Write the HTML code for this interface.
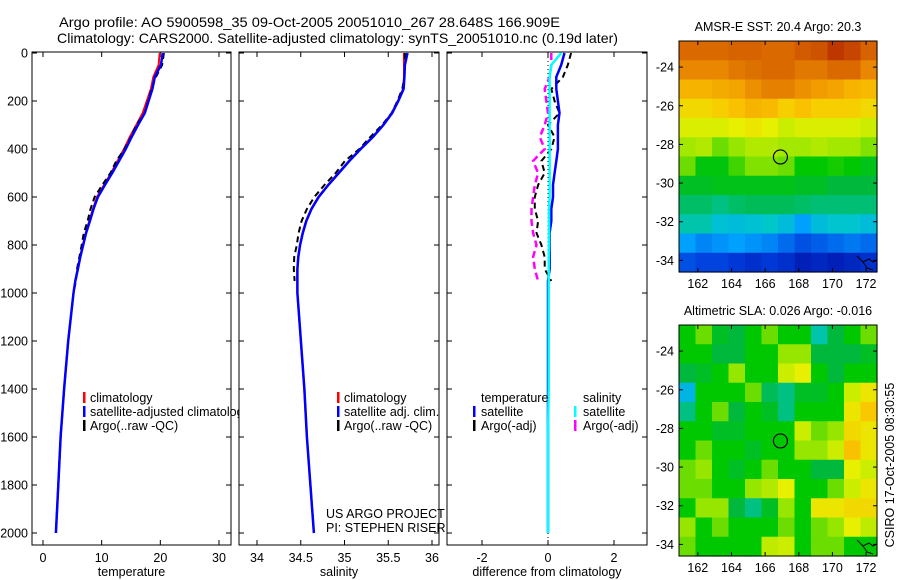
<!DOCTYPE html>
<html><head><meta charset="utf-8"><style>
body{margin:0;background:#fff;}
svg{display:block;font-family:"Liberation Sans",sans-serif;}
text{font-size:12.5px;fill:#000;}
</style></head><body>
<svg id="fig" width="900" height="580" viewBox="0 0 900 580" xmlns="http://www.w3.org/2000/svg">
<rect width="900" height="580" fill="#fff"/>
<text x="59" y="27" style="font-size:14px" textLength="501" lengthAdjust="spacingAndGlyphs">Argo profile: AO 5900598_35 09-Oct-2005 20051010_267 28.648S 166.909E</text>
<text x="57" y="43" style="font-size:14px" textLength="561" lengthAdjust="spacingAndGlyphs">Climatology: CARS2000. Satellite-adjusted climatology: synTS_20051010.nc (0.19d later)</text>
<text transform="translate(894,465) rotate(-90)" text-anchor="middle">CSIRO 17-Oct-2005 08:30:55</text>
</svg>
<script>
// ---- data ----
const depths=[0,50,100,150,200,250,300,350,400,450,500,550,600,650,700,750,800,850,900,950,1000,1200,1400,1600,1800,2000];
const climTemp=[19.9,19.7,18.8,18.4,17.7,17.0,15.9,14.8,13.8,12.7,11.6,10.4,9.2,8.5,7.9,7.3,6.8,6.3,5.9,5.5,5.2,4.3,3.6,3.0,2.6,2.2];
const satTempDiff=[0.5,0.4,0.25,0.25,0.3,0.35,0.3,0.3,0.3,0.25,0.2,0.15,0.15,0.1,0.1,0.05,0.05,0.05,0.05,0,0,0,0,0,0,0];
const argoTempDiff=[0.7,0.6,0.45,0.1,0.2,0.35,0.0,0.2,0.1,-0.2,-0.1,-0.3,-0.4,-0.4,-0.3,-0.35,-0.2,-0.1,-0.1,0.1];
const climSal=[35.68,35.68,35.68,35.67,35.61,35.54,35.44,35.32,35.18,35.05,34.93,34.81,34.70,34.62,34.56,34.52,34.49,34.47,34.46,34.46,34.46,34.50,34.54,34.57,34.61,34.65];
const satSalDiff=[0.4,0.1,0.05,0.05,0.05,0.05,0.05,0.05,0.05,0.05,0.05,0.05,0.05,0.03,0.03,0.03,0.03,0.02,0.02,0.02,0.02,0.02,0.02,0.0,0.0,0.0];
const argoSalDiff=[0.1,0.1,0.05,-0.1,-0.05,0.0,-0.1,-0.25,-0.1,-0.45,-0.3,-0.4,-0.45,-0.5,-0.5,-0.45,-0.35,-0.45,-0.4,-0.3];
const salDiffScale=0.1;
const depthTicks=[0,200,400,600,800,1000,1200,1400,1600,1800,2000];
const tempTicks=[0,10,20,30];
const salTicks=[34,34.5,35,35.5,36];
const diffTicks=[-2,0,2];
const sstGrid=[
[.88,.88,.88,.89,.89,.88,.88,.9,.91,.95,.93,.89],
[.84,.84,.84,.86,.87,.88,.88,.86,.86,.88,.88,.84],
[.78,.78,.79,.8,.83,.85,.85,.83,.81,.8,.78,.77],
[.72,.72,.74,.76,.78,.77,.74,.76,.74,.74,.74,.72],
[.67,.67,.67,.68,.7,.68,.66,.67,.67,.67,.67,.66],
[.63,.64,.6,.62,.64,.64,.63,.63,.64,.63,.63,.61],
[.6,.54,.54,.58,.61,.61,.6,.55,.55,.56,.55,.53],
[.52,.52,.53,.53,.53,.53,.53,.52,.52,.5,.5,.5],
[.47,.47,.45,.47,.48,.48,.48,.47,.46,.46,.46,.46],
[.42,.42,.38,.37,.38,.4,.37,.3,.37,.39,.39,.37],
[.3,.26,.28,.3,.28,.26,.22,.18,.2,.22,.24,.22],
[.18,.16,.16,.14,.12,.14,.12,.08,.1,.08,.1,.12]];
const slaGrid=[
[.55,.6,.52,.5,.55,.6,.55,.55,.42,.5,.55,.6],
[.55,.55,.5,.5,.55,.55,.62,.62,.5,.5,.5,.52],
[.5,.52,.55,.62,.55,.55,.66,.68,.55,.5,.55,.55],
[.35,.55,.55,.55,.6,.48,.45,.52,.52,.55,.66,.7],
[.45,.55,.6,.5,.55,.52,.45,.55,.55,.55,.7,.75],
[.55,.55,.52,.52,.55,.55,.55,.66,.6,.62,.72,.7],
[.55,.6,.55,.55,.52,.55,.55,.62,.62,.66,.76,.7],
[.6,.62,.55,.52,.55,.6,.55,.55,.5,.5,.68,.66],
[.6,.6,.55,.55,.62,.64,.68,.55,.55,.6,.66,.7],
[.55,.62,.62,.5,.45,.52,.62,.55,.7,.7,.72,.72],
[.62,.55,.6,.55,.55,.55,.6,.55,.6,.62,.68,.65],
[.6,.55,.55,.55,.55,.65,.66,.55,.6,.6,.55,.55]];
const lonTicks=[162,164,166,168,170,172];
const latTicks=[-24,-26,-28,-30,-32,-34];
const floatLon=[166.909];
const floatLat=[-28.648];
// ---- helpers ----
const svg=document.getElementById('fig');
const NS='http://www.w3.org/2000/svg';
function mk(tag,attrs,parent){const e=document.createElementNS(NS,tag);for(const k in attrs)e.setAttribute(k,attrs[k]);(parent||svg).appendChild(e);return e;}
const yDepth=d=>53+d*0.24;
function lin(d0,d1,p0,p1){return v=>p0+(v-d0)*(p1-p0)/(d1-d0);}
function panel(name,x0,x1,xs,ticks,label,fmt){
  const g=mk('g',{});
  
  
  const y0=52,y1=545;
  for(const t of ticks){const x=xs(t);
    mk('line',{x1:x,y1:y0,x2:x,y2:y0+5,stroke:'#000'},g);
    mk('line',{x1:x,y1:y1,x2:x,y2:y1-5,stroke:'#000'},g);
    const tl=mk('text',{x:x,y:562,'text-anchor':'middle'},g);tl.textContent=fmt?fmt(t):t;
    
    
  }
  for(const d of depthTicks){const y=yDepth(d);
    mk('line',{x1:x0,y1:y,x2:x0+5,y2:y,stroke:'#000'},g);
    mk('line',{x1:x1,y1:y,x2:x1-5,y2:y,stroke:'#000'},g);
  }
  mk('rect',{x:x0,y:y0,width:x1-x0,height:y1-y0,fill:'none',stroke:'#000'},g);
  const xl=mk('text',{x:(x0+x1)/2,y:576,'text-anchor':'middle'},g);xl.textContent=label;
  
  
  return g;
}
function line(g,xs,vals,ds,color,w,dash,name){
  const pts=vals.map((v,i)=>xs(v).toFixed(1)+','+yDepth(ds[i]).toFixed(1)).join(' ');
  const p=mk('polyline',{points:pts,fill:'none',stroke:color,'stroke-width':w},g);
  if(dash)p.setAttribute('stroke-dasharray',dash);
  
  
}
function txt(g,x,y,s,name,anchor){const t=mk('text',{x:x,y:y},g);if(anchor)t.setAttribute('text-anchor',anchor);t.textContent=s;
  
  return t;}
function mark(g,x,y,c){mk('rect',{x:x,y:y-6,width:2.5,height:11,fill:c},g);}
for(const d of depthTicks){txt(svg,28,yDepth(d)+4.5,String(d),'y-tick-label','end');}
// ---- panel 1: temperature ----
const xT=lin(0,30,43,219);
const g1=panel('temperature-panel',32,231,xT,tempTicks,'temperature');
const argoD=depths.slice(0,argoTempDiff.length);
line(g1,xT,climTemp,depths,'#f00',2,null,'climatology-temp-line');
line(g1,xT,argoTempDiff.map((v,i)=>climTemp[i]+v).concat(climTemp.slice(argoTempDiff.length)),depths,'#000',2,'6,4','argo-temp-line');
line(g1,xT,satTempDiff.map((v,i)=>climTemp[i]+v),depths,'#00f',2.5,null,'satellite-temp-line');
const cp=mk('clipPath',{id:'c1'});mk('rect',{x:0,y:0,width:239,height:580},cp);
const lg1=mk('g',{'clip-path':'url(#c1)'},g1);


mark(lg1,83,398,'#f00');txt(lg1,90,402,'climatology','legend-entry');
mark(lg1,83,412,'#00f');txt(lg1,90,416,'satellite-adjusted climatology','legend-entry');
mark(lg1,83,426,'#000');txt(lg1,90,430,'Argo(..raw -QC)','legend-entry');
// ---- panel 2: salinity ----
const xS=lin(34,36,257,432);
const g2=panel('salinity-panel',239,439,xS,salTicks,'salinity');
line(g2,xS,climSal,depths,'#f00',2,null,'climatology-sal-line');
line(g2,xS,argoSalDiff.map((v,i)=>climSal[i]+v*salDiffScale),argoD,'#000',2,'6,4','argo-sal-line');
line(g2,xS,satSalDiff.map((v,i)=>climSal[i]+v*salDiffScale),depths,'#00f',2.5,null,'satellite-sal-line');
mark(g2,337,398,'#f00');txt(g2,344,402,'climatology','legend-entry');
mark(g2,337,412,'#00f');txt(g2,344,416,'satellite adj. clim.','legend-entry');
mark(g2,337,426,'#000');txt(g2,344,430,'Argo(..raw -QC)','legend-entry');
txt(g2,326,518,'US ARGO PROJECT','project-label');
txt(g2,326,532,'PI: STEPHEN RISER','pi-label');
// ---- panel 3: differences ----
const xD=lin(-2,2,482,614);
const g3=panel('difference-panel',447,647,xD,diffTicks,'difference from climatology');
mk('line',{x1:xD(0),y1:53,x2:xD(0),y2:545,stroke:'#000','stroke-dasharray':'1,3'},g3);
line(g3,xD,argoSalDiff,argoD,'#f0f',2.5,'7,4','argo-sal-diff-line');
line(g3,xD,argoTempDiff,argoD,'#000',2,'6,4','argo-temp-diff-line');
line(g3,xD,satTempDiff,depths,'#00f',2.5,null,'satellite-temp-diff-line');
line(g3,xD,satSalDiff,depths,'#0ff',2.5,null,'satellite-sal-diff-line');
txt(g3,481,402,'temperature','legend-header');txt(g3,583,402,'salinity','legend-header');
mark(g3,473,412,'#00f');txt(g3,481,416,'satellite','legend-entry');
mark(g3,574,412,'#0ff');txt(g3,583,416,'satellite','legend-entry');
mark(g3,473,426,'#000');txt(g3,481,430,'Argo(-adj)','legend-entry');
mark(g3,574,426,'#f0f');txt(g3,583,430,'Argo(-adj)','legend-entry');
// ---- maps ----
const stops=[[0,[0,0,140]],[.15,[0,60,220]],[.3,[0,160,255]],[.4,[0,200,200]],[.5,[0,185,60]],[.55,[0,200,0]],[.62,[150,230,0]],[.68,[230,240,0]],[.75,[250,200,0]],[.82,[240,150,0]],[.9,[210,90,0]],[1,[170,20,0]]];
function cmap(v){for(let i=1;i<stops.length;i++){if(v<=stops[i][0]){const a=stops[i-1],b=stops[i],f=(v-a[0])/(b[0]-a[0]);const c=a[1].map((x,k)=>Math.round(x+(b[1][k]-x)*f));return 'rgb('+c.join(',')+')';}}return 'rgb(170,20,0)';}
function map(name,top,grid,title){
  const g=mk('g',{});
  
  
  const x0=679,x1=877,y0=top,y1=top+231;
  const xs=lin(160.88,172.65,x0,x1), ys=lin(-22.65,-34.6,y0,y1);
  const rows=grid.length,cols=grid[0].length,cw=(x1-x0)/cols,ch=(y1-y0)/rows;
  grid.forEach((r,i)=>r.forEach((v,j)=>{const c=mk('rect',{x:x0+j*cw,y:y0+i*ch,width:cw+0.6,height:ch+0.6,fill:cmap(v)},g);
    
    }));
  const ci=mk('circle',{cx:xs(floatLon[0]),cy:ys(floatLat[0]),r:7,fill:'none',stroke:'#000','stroke-width':1.2},g);
  
  
  mk('path',{d:`M${x1-20} ${y1-16} l6 6 l6 -3 l4 3 l4 -2 M${x1-14} ${y1-10} l4 6 l6 2`,fill:'none',stroke:'#000','stroke-width':1},g);
  mk('rect',{x:x0,y:y0,width:x1-x0,height:y1-y0,fill:'none',stroke:'#000'},g);
  for(const t of lonTicks){const x=xs(t);mk('line',{x1:x,y1:y0,x2:x,y2:y0+4,stroke:'#000'},g);mk('line',{x1:x,y1:y1,x2:x,y2:y1-4,stroke:'#000'},g);txt(g,x,y1+16,String(t),'lon-tick-label','middle');}
  for(const t of latTicks){const y=ys(t);mk('line',{x1:x0,y1:y,x2:x0+4,y2:y,stroke:'#000'},g);mk('line',{x1:x1,y1:y,x2:x1-4,y2:y,stroke:'#000'},g);txt(g,x0-5,y+4.5,String(t),'lat-tick-label','end');}
  txt(g,778,top-10,title,'map-title','middle');
}
map('sst-map',41,sstGrid,'AMSR-E SST: 20.4 Argo: 20.3');
map('sla-map',325,slaGrid,'Altimetric SLA: 0.026 Argo: -0.016');
</script>
</body></html>
